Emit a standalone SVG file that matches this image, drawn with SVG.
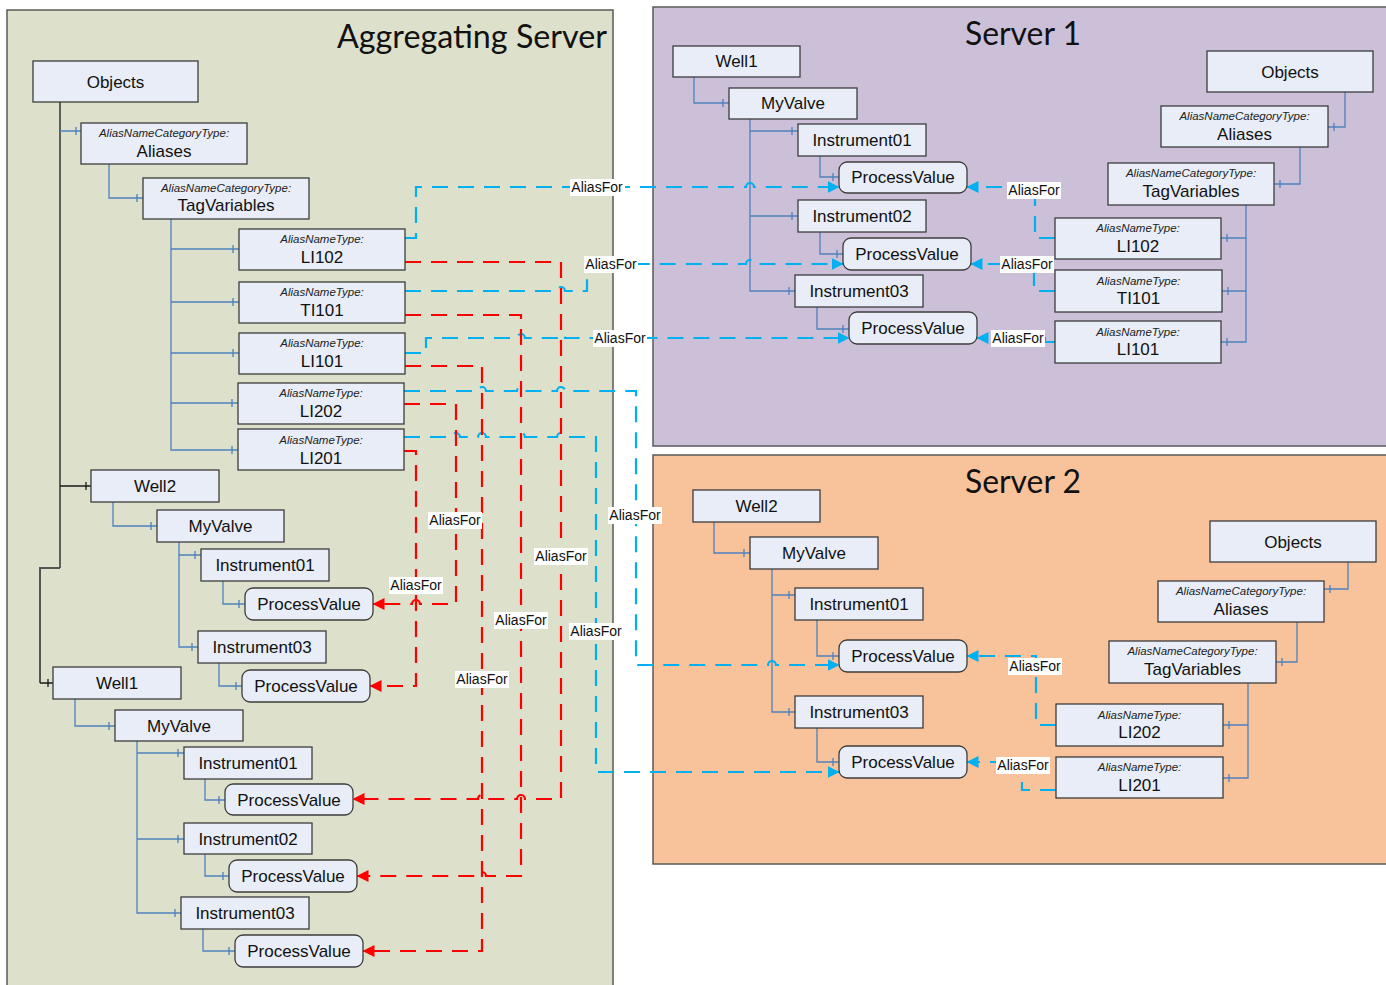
<svg xmlns="http://www.w3.org/2000/svg" width="1386" height="985" viewBox="0 0 1386 985">
  <style>
    .panel { stroke: #5a5a5a; stroke-width: 1.5; }
    .title { font-family: Lato, "Open Sans", sans-serif; font-size: 33px; fill: #111; }
    .box { fill: #E8EDF7; stroke: #3c3c3c; stroke-width: 1.3; }
    .name { font-family: "Liberation Sans", Arial, sans-serif; font-size: 17px; fill: #111; text-anchor: middle; }
    .type { font-family: "Liberation Sans", Arial, sans-serif; font-size: 11.5px; font-style: italic; fill: #222; text-anchor: middle; }
    .tree { fill: none; stroke: #4F81BD; stroke-width: 1.3; }
    .tree-k { fill: none; stroke: #1a1a1a; stroke-width: 1.3; }
    .tree-g { fill: none; stroke: #555; stroke-width: 2; }
    .af-b { fill: none; stroke: #00B0F0; stroke-width: 2.2; stroke-dasharray: 16 10; marker-end: url(#ah-b); }
    .af-r { fill: none; stroke: #FF0000; stroke-width: 2.2; stroke-dasharray: 16 10; marker-end: url(#ah-r); }
    .lbl rect { fill: #fff; }
    .lbl text { font-family: "Liberation Sans", Arial, sans-serif; font-size: 14px; fill: #111; text-anchor: middle; }
  </style>
  <defs>
    <marker id="ah-b" viewBox="0 0 12 12" refX="11.5" refY="6" markerWidth="12" markerHeight="12" markerUnits="userSpaceOnUse" orient="auto">
      <path d="M0,0 L12,6 L0,12 z" fill="#00B0F0"/>
    </marker>
    <marker id="ah-r" viewBox="0 0 12 12" refX="11.5" refY="6" markerWidth="12" markerHeight="12" markerUnits="userSpaceOnUse" orient="auto">
      <path d="M0,0 L12,6 L0,12 z" fill="#FF0000"/>
    </marker>
  </defs>

  <rect width="1386" height="985" fill="#fff"/>

  <!-- server panels -->
  <g id="panels">
    <rect class="panel" x="7" y="10" width="606" height="990" fill="#DDE0CB"/>
    <rect class="panel" x="653" y="7" width="740" height="439" fill="#CCC0D9"/>
    <rect class="panel" x="653" y="455" width="740" height="409" fill="#F8C39B"/>
    <text class="title" x="337" y="48" textLength="270" lengthAdjust="spacingAndGlyphs">Aggregating Server</text>
    <text class="title" x="965" y="45" textLength="116" lengthAdjust="spacingAndGlyphs">Server 1</text>
    <text class="title" x="965" y="493" textLength="116" lengthAdjust="spacingAndGlyphs">Server 2</text>
  </g>

  <!-- hierarchy references -->
  <g id="tree-connectors">
    <!-- Aggregating Server -->
    <path class="tree-k" d="M60,102 V568"/>
    <path class="tree-g" d="M60,568 H40 V683"/>
    <path class="tree-k" d="M40,683 H53 M48,679 V687"/>
    <path class="tree-k" d="M60,486 H91 M86,482 V490"/>
    <path class="tree" d="M60,131 H81 M76,127 V135"/>
    <path class="tree" d="M109,164 V198 H143 M137,194 V202"/>
    <path class="tree" d="M171,219 V450 H238 M171,249 H239 M171,302 H239 M171,353 H239 M171,403 H238
                          M233,245 V253 M233,298 V306 M233,349 V357 M232,399 V407 M232,446 V454"/>
    <path class="tree" d="M113,502 V526 H157 M151,522 V530"/>
    <path class="tree" d="M179,542 V647 H198 M179,555 H201 M195,551 V559 M192,643 V651"/>
    <path class="tree" d="M223,581 V604 H245 M239,600 V608"/>
    <path class="tree" d="M219,663 V686 H242 M236,682 V690"/>
    <path class="tree" d="M75,699 V726 H115 M109,722 V730"/>
    <path class="tree" d="M137,741 V913 H181 M137,753 H184 M137,839 H184 M178,749 V757 M178,835 V843 M175,909 V917"/>
    <path class="tree" d="M205,779 V800 H225 M219,796 V804"/>
    <path class="tree" d="M205,854 V876 H229 M223,872 V880"/>
    <path class="tree" d="M203,929 V951 H235 M229,947 V955"/>
    <!-- Server 1 -->
    <path class="tree" d="M694,77 V103 H729 M723,99 V107"/>
    <path class="tree" d="M750,119 V291 H795 M750,131 H798 M750,216 H798 M792,127 V135 M792,212 V220 M789,287 V295"/>
    <path class="tree" d="M820,156 V177 H839 M833,173 V181"/>
    <path class="tree" d="M820,232 V254 H843 M837,250 V258"/>
    <path class="tree" d="M817,307 V329 H849 M843,325 V333"/>
    <path class="tree" d="M1345,92 V127 H1328 M1334,123 V131"/>
    <path class="tree" d="M1300,147 V184 H1274 M1280,180 V188"/>
    <path class="tree" d="M1246,205 V342 H1221 M1246,238 H1221 M1246,291 H1222 M1227,234 V242 M1228,287 V295 M1227,338 V346"/>
    <!-- Server 2 -->
    <path class="tree" d="M714,522 V553 H750 M744,549 V557"/>
    <path class="tree" d="M772,569 V712 H795 M772,595 H795 M789,591 V599 M789,708 V716"/>
    <path class="tree" d="M817,620 V656 H839 M833,652 V660"/>
    <path class="tree" d="M817,728 V762 H839 M833,758 V766"/>
    <path class="tree" d="M1348,562 V589 H1324 M1330,585 V593"/>
    <path class="tree" d="M1297,622 V662 H1276 M1282,658 V666"/>
    <path class="tree" d="M1248,683 V778 H1223 M1248,725 H1223 M1229,721 V729 M1229,774 V782"/>
  </g>

  <!-- AliasFor references -->
  <g id="alias-connectors">
    <!-- Aggregating Server aliases to Server 1 / Server 2 -->
    <path class="af-b" d="M405,238 H416 V187 H746 A4,4 0 0 1 754,187 H839"/>
    <path class="af-b" d="M405,291 H557 A4,4 0 0 1 565,291 H587 V264 H746 A4,4 0 0 1 754,264 H843"/>
    <path class="af-b" d="M405,353 H426 V338 H517 A4,4 0 0 1 525,338 H557 A4,4 0 0 1 565,338 H849"/>
    <path class="af-b" d="M404,391 H478 A4,4 0 0 1 486,391 H517 A4,4 0 0 1 525,391 H557 A4,4 0 0 1 565,391 H636 V665 H768 A4,4 0 0 1 776,665 H839"/>
    <path class="af-b" d="M404,437 H452 A4,4 0 0 1 460,437 H478 A4,4 0 0 1 486,437 H517 A4,4 0 0 1 525,437 H557 A4,4 0 0 1 565,437 H596 V772 H839"/>
    <!-- Server 1 local aliases -->
    <path class="af-b" d="M1055,238 H1035 V187 H967"/>
    <path class="af-b" d="M1055,291 H1034 V264 H971"/>
    <path class="af-b" d="M1055,342 H1045 V338 H977"/>
    <!-- Server 2 local aliases -->
    <path class="af-b" d="M1056,725 H1036 V656 H967"/>
    <path class="af-b" d="M1056,790 H1022 V762 H967"/>
    <!-- Aggregating Server local aliases -->
    <path class="af-r" d="M405,262 H561 V799 H525 A4,4 0 0 0 517,799 H486 A4,4 0 0 0 478,799 H353"/>
    <path class="af-r" d="M405,315 H521 V876 H486 A4,4 0 0 0 478,876 H357"/>
    <path class="af-r" d="M405,366 H482 V951 H363"/>
    <path class="af-r" d="M404,404 H456 V604 H420 A4,4 0 0 0 412,604 H373"/>
    <path class="af-r" d="M404,451 H416 V686 H370"/>

    <g class="lbl">
      <rect x="570" y="179" width="55" height="17"/><text x="597" y="192">AliasFor</text>
      <rect x="584" y="256" width="54" height="17"/><text x="611" y="269">AliasFor</text>
      <rect x="593" y="330" width="54" height="17"/><text x="620" y="343">AliasFor</text>
      <rect x="608" y="507" width="54" height="17"/><text x="635" y="520">AliasFor</text>
      <rect x="569" y="623" width="54" height="17"/><text x="596" y="636">AliasFor</text>
      <rect x="1007" y="182" width="54" height="17"/><text x="1034" y="195">AliasFor</text>
      <rect x="1000" y="256" width="54" height="17"/><text x="1027" y="269">AliasFor</text>
      <rect x="991" y="330" width="54" height="17"/><text x="1018" y="343">AliasFor</text>
      <rect x="1008" y="658" width="54" height="17"/><text x="1035" y="671">AliasFor</text>
      <rect x="996" y="757" width="54" height="17"/><text x="1023" y="770">AliasFor</text>
      <rect x="534" y="548" width="54" height="17"/><text x="561" y="561">AliasFor</text>
      <rect x="494" y="612" width="54" height="17"/><text x="521" y="625">AliasFor</text>
      <rect x="455" y="671" width="54" height="17"/><text x="482" y="684">AliasFor</text>
      <rect x="428" y="512" width="54" height="17"/><text x="455" y="525">AliasFor</text>
      <rect x="389" y="577" width="54" height="17"/><text x="416" y="590">AliasFor</text>
    </g>
  </g>

  <!-- Aggregating Server nodes -->
  <g id="agg-objects"><rect class="box" x="33" y="61" width="165" height="41"/><text class="name" x="115.5" y="88">Objects</text></g>
  <g id="agg-aliases"><rect class="box" x="81" y="123" width="166" height="41"/><text class="type" x="164" y="137">AliasNameCategoryType:</text><text class="name" x="164" y="157">Aliases</text></g>
  <g id="agg-tagvariables"><rect class="box" x="143" y="178" width="166" height="41"/><text class="type" x="226" y="192">AliasNameCategoryType:</text><text class="name" x="226" y="211">TagVariables</text></g>
  <g id="agg-li102"><rect class="box" x="239" y="229" width="166" height="41"/><text class="type" x="322" y="243">AliasNameType:</text><text class="name" x="322" y="263">LI102</text></g>
  <g id="agg-ti101"><rect class="box" x="239" y="282" width="166" height="41"/><text class="type" x="322" y="296">AliasNameType:</text><text class="name" x="322" y="316">TI101</text></g>
  <g id="agg-li101"><rect class="box" x="239" y="333" width="166" height="41"/><text class="type" x="322" y="347">AliasNameType:</text><text class="name" x="322" y="367">LI101</text></g>
  <g id="agg-li202"><rect class="box" x="238" y="383" width="166" height="41"/><text class="type" x="321" y="397">AliasNameType:</text><text class="name" x="321" y="417">LI202</text></g>
  <g id="agg-li201"><rect class="box" x="238" y="429" width="166" height="41"/><text class="type" x="321" y="444">AliasNameType:</text><text class="name" x="321" y="464">LI201</text></g>
  <g id="agg-well2"><rect class="box" x="91" y="470" width="128" height="32"/><text class="name" x="155" y="492">Well2</text></g>
  <g id="agg-well2-myvalve"><rect class="box" x="157" y="510" width="127" height="32"/><text class="name" x="220.5" y="532">MyValve</text></g>
  <g id="agg-well2-instrument01"><rect class="box" x="201" y="549" width="128" height="32"/><text class="name" x="265" y="571">Instrument01</text></g>
  <g id="agg-well2-pv01"><rect class="box" x="245" y="588" width="128" height="32" rx="8"/><text class="name" x="309" y="610">ProcessValue</text></g>
  <g id="agg-well2-instrument03"><rect class="box" x="198" y="631" width="128" height="32"/><text class="name" x="262" y="653">Instrument03</text></g>
  <g id="agg-well2-pv03"><rect class="box" x="242" y="670" width="128" height="32" rx="8"/><text class="name" x="306" y="692">ProcessValue</text></g>
  <g id="agg-well1"><rect class="box" x="53" y="667" width="128" height="32"/><text class="name" x="117" y="689">Well1</text></g>
  <g id="agg-well1-myvalve"><rect class="box" x="115" y="710" width="128" height="31"/><text class="name" x="179" y="732">MyValve</text></g>
  <g id="agg-well1-instrument01"><rect class="box" x="184" y="747" width="128" height="32"/><text class="name" x="248" y="769">Instrument01</text></g>
  <g id="agg-well1-pv01"><rect class="box" x="225" y="784" width="128" height="31" rx="8"/><text class="name" x="289" y="806">ProcessValue</text></g>
  <g id="agg-well1-instrument02"><rect class="box" x="184" y="823" width="128" height="31"/><text class="name" x="248" y="845">Instrument02</text></g>
  <g id="agg-well1-pv02"><rect class="box" x="229" y="860" width="128" height="32" rx="8"/><text class="name" x="293" y="882">ProcessValue</text></g>
  <g id="agg-well1-instrument03"><rect class="box" x="181" y="897" width="128" height="32"/><text class="name" x="245" y="919">Instrument03</text></g>
  <g id="agg-well1-pv03"><rect class="box" x="235" y="935" width="128" height="32" rx="8"/><text class="name" x="299" y="957">ProcessValue</text></g>

  <!-- Server 1 nodes -->
  <g id="s1-well1"><rect class="box" x="673" y="46" width="127" height="31"/><text class="name" x="736.5" y="67">Well1</text></g>
  <g id="s1-myvalve"><rect class="box" x="729" y="88" width="128" height="31"/><text class="name" x="793" y="109">MyValve</text></g>
  <g id="s1-instrument01"><rect class="box" x="798" y="124" width="128" height="32"/><text class="name" x="862" y="146">Instrument01</text></g>
  <g id="s1-pv01"><rect class="box" x="839" y="162" width="128" height="31" rx="8"/><text class="name" x="903" y="183">ProcessValue</text></g>
  <g id="s1-instrument02"><rect class="box" x="798" y="200" width="128" height="32"/><text class="name" x="862" y="222">Instrument02</text></g>
  <g id="s1-pv02"><rect class="box" x="843" y="238" width="128" height="32" rx="8"/><text class="name" x="907" y="260">ProcessValue</text></g>
  <g id="s1-instrument03"><rect class="box" x="795" y="275" width="128" height="32"/><text class="name" x="859" y="297">Instrument03</text></g>
  <g id="s1-pv03"><rect class="box" x="849" y="312" width="128" height="32" rx="8"/><text class="name" x="913" y="334">ProcessValue</text></g>
  <g id="s1-objects"><rect class="box" x="1207" y="51" width="166" height="41"/><text class="name" x="1290" y="78">Objects</text></g>
  <g id="s1-aliases"><rect class="box" x="1161" y="106" width="167" height="41"/><text class="type" x="1244.5" y="120">AliasNameCategoryType:</text><text class="name" x="1244.5" y="140">Aliases</text></g>
  <g id="s1-tagvariables"><rect class="box" x="1108" y="163" width="166" height="42"/><text class="type" x="1191" y="177">AliasNameCategoryType:</text><text class="name" x="1191" y="197">TagVariables</text></g>
  <g id="s1-li102"><rect class="box" x="1055" y="218" width="166" height="41"/><text class="type" x="1138" y="232">AliasNameType:</text><text class="name" x="1138" y="252">LI102</text></g>
  <g id="s1-ti101"><rect class="box" x="1055" y="270" width="167" height="42"/><text class="type" x="1138.5" y="285">AliasNameType:</text><text class="name" x="1138.5" y="304">TI101</text></g>
  <g id="s1-li101"><rect class="box" x="1055" y="321" width="166" height="42"/><text class="type" x="1138" y="336">AliasNameType:</text><text class="name" x="1138" y="355">LI101</text></g>

  <!-- Server 2 nodes -->
  <g id="s2-well2"><rect class="box" x="693" y="490" width="127" height="32"/><text class="name" x="756.5" y="512">Well2</text></g>
  <g id="s2-myvalve"><rect class="box" x="750" y="537" width="128" height="32"/><text class="name" x="814" y="559">MyValve</text></g>
  <g id="s2-instrument01"><rect class="box" x="795" y="588" width="128" height="32"/><text class="name" x="859" y="610">Instrument01</text></g>
  <g id="s2-pv01"><rect class="box" x="839" y="640" width="128" height="32" rx="8"/><text class="name" x="903" y="662">ProcessValue</text></g>
  <g id="s2-instrument03"><rect class="box" x="795" y="696" width="128" height="32"/><text class="name" x="859" y="718">Instrument03</text></g>
  <g id="s2-pv03"><rect class="box" x="839" y="746" width="128" height="32" rx="8"/><text class="name" x="903" y="768">ProcessValue</text></g>
  <g id="s2-objects"><rect class="box" x="1210" y="521" width="166" height="41"/><text class="name" x="1293" y="548">Objects</text></g>
  <g id="s2-aliases"><rect class="box" x="1158" y="581" width="166" height="41"/><text class="type" x="1241" y="595">AliasNameCategoryType:</text><text class="name" x="1241" y="615">Aliases</text></g>
  <g id="s2-tagvariables"><rect class="box" x="1109" y="641" width="167" height="42"/><text class="type" x="1192.5" y="655">AliasNameCategoryType:</text><text class="name" x="1192.5" y="675">TagVariables</text></g>
  <g id="s2-li202"><rect class="box" x="1056" y="704" width="167" height="42"/><text class="type" x="1139.5" y="719">AliasNameType:</text><text class="name" x="1139.5" y="738">LI202</text></g>
  <g id="s2-li201"><rect class="box" x="1056" y="757" width="167" height="41"/><text class="type" x="1139.5" y="771">AliasNameType:</text><text class="name" x="1139.5" y="791">LI201</text></g>
</svg>
